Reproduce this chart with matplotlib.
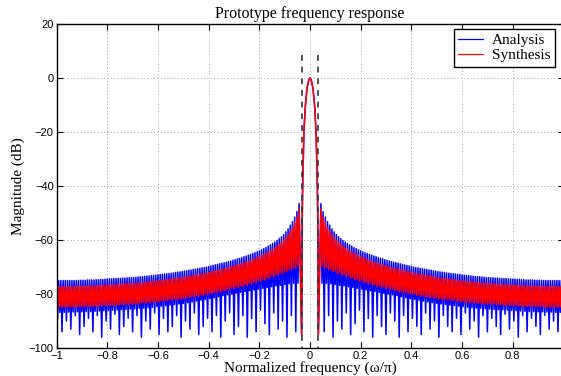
import numpy as np
import matplotlib
matplotlib.use("Agg")
import matplotlib.pyplot as plt

# main lobe (shared by both prototypes), positive half
main_f = [0.0, 0.005, 0.010, 0.013, 0.018, 0.024, 0.029, 0.031, 0.033]
main_db = [0.0, -0.8, -3.0, -5.0, -10.0, -20.0, -40.0, -55.0, -95.0]

# sidelobes on the positive half (mirrored for negative frequencies)
SIDELOBE_START = 0.043
SIDELOBE_STEP = 0.0087

analysis_peaks = [
    -46.5, -49.5, -51.5, -53.2, -54.5, -55.9, -57.0, -58.0, -58.8, -59.5,
    -60.2, -60.8, -61.3, -61.8, -62.3, -62.8, -63.2, -63.6, -64.0, -64.4,
    -64.7, -65.0, -65.3, -65.6, -65.9, -66.2, -66.5, -66.8, -67.0, -67.3,
    -67.5, -67.8, -68.0, -68.2, -68.4, -68.6, -68.8, -69.0, -69.2, -69.4,
    -69.6, -69.8, -70.0, -70.2, -70.3, -70.5, -70.6, -70.8, -70.9, -71.1,
    -71.2, -71.4, -71.5, -71.7, -71.8, -71.9, -72.0, -72.2, -72.3, -72.4,
    -72.5, -72.6, -72.7, -72.8, -72.9, -73.0, -73.1, -73.2, -73.3, -73.4,
    -73.5, -73.6, -73.6, -73.7, -73.8, -73.9, -73.9, -74.0, -74.0, -74.1,
    -74.1, -74.2, -74.2, -74.3, -74.3, -74.4, -74.4, -74.5, -74.5, -74.6,
    -74.6, -74.7, -74.7, -74.8, -74.8, -74.8, -74.8, -74.9, -74.9, -74.9,
    -74.9, -75.0, -75.0, -75.0, -75.0, -75.0, -75.0, -75.0, -75.0, -75.0]
# shallow and deep nulls alternate
analysis_dips = [
    -76.0, -94, -76.0, -88, -76.2, -96, -76.5, -90, -76.8, -93,
    -77.0, -87, -77.3, -95, -77.6, -91, -77.9, -86, -78.2, -94,
    -78.5, -89, -78.8, -96, -79.1, -88, -79.4, -92, -79.7, -95,
    -80.0, -87, -80.3, -90, -80.6, -96, -81.0, -88, -81.4, -94,
    -81.7, -89, -82.0, -92, -82.3, -95, -82.6, -87, -82.9, -93,
    -83.2, -90, -83.5, -96, -83.7, -88, -83.9, -92, -84.1, -94,
    -84.3, -89, -84.5, -95, -84.7, -87, -84.9, -93, -85.1, -90,
    -85.2, -96, -85.3, -88, -85.5, -94, -85.6, -89, -85.7, -92,
    -85.8, -95, -85.9, -87.5, -86.0, -93, -86.1, -90, -86.2, -96,
    -86.3, -88, -86.4, -94, -86.5, -89, -86.5, -92, -86.6, -95,
    -86.6, -88, -86.7, -93, -86.7, -90, -86.8, -94, -86.8, -89]

synthesis_peaks = [
    -48.5, -51.5, -53.5, -55.2, -56.6, -58.0, -59.1, -60.1, -60.9, -61.6,
    -62.3, -62.9, -63.4, -63.9, -64.4, -64.9, -65.3, -65.7, -66.1, -66.5,
    -66.9, -67.2, -67.5, -67.8, -68.1, -68.4, -68.7, -69.0, -69.2, -69.5,
    -69.7, -70.0, -70.2, -70.4, -70.6, -70.8, -71.0, -71.2, -71.4, -71.6,
    -71.8, -72.0, -72.2, -72.4, -72.5, -72.7, -72.8, -73.0, -73.1, -73.3,
    -73.4, -73.6, -73.7, -73.9, -74.0, -74.1, -74.2, -74.4, -74.5, -74.6,
    -74.7, -74.8, -74.9, -75.0, -75.1, -75.2, -75.3, -75.4, -75.5, -75.6,
    -75.7, -75.8, -75.8, -75.9, -76.0, -76.1, -76.1, -76.2, -76.2, -76.3,
    -76.3, -76.4, -76.4, -76.5, -76.5, -76.6, -76.6, -76.7, -76.7, -76.8,
    -76.8, -76.9, -76.9, -77.0, -77.0, -77.0, -77.0, -77.1, -77.1, -77.1,
    -77.1, -77.2, -77.2, -77.2, -77.2, -77.2, -77.3, -77.3, -77.3, -77.3]
synthesis_dips = [
    -69.5, -70.5, -70.2, -71.0, -70.8, -71.6, -71.4, -72.3, -72.1, -73.0,
    -72.7, -73.6, -73.3, -74.2, -73.9, -74.8, -74.5, -75.3, -75.0, -75.8,
    -75.5, -76.3, -76.0, -76.8, -76.4, -77.2, -76.9, -77.6, -77.3, -78.0,
    -77.7, -78.4, -78.1, -78.8, -78.5, -79.2, -78.9, -79.6, -79.3, -79.9,
    -79.6, -80.2, -79.9, -80.5, -80.2, -80.8, -80.5, -81.1, -80.8, -81.4,
    -81.1, -81.7, -81.4, -81.9, -81.6, -82.1, -81.8, -82.3, -82.0, -82.5,
    -82.2, -82.7, -82.4, -82.9, -82.6, -83.1, -82.8, -83.3, -83.0, -83.4,
    -83.1, -83.5, -83.2, -83.7, -83.4, -83.8, -83.5, -83.9, -83.6, -84.0,
    -83.7, -84.1, -83.8, -84.2, -83.9, -84.3, -84.0, -84.4, -84.1, -84.5,
    -84.2, -84.6, -84.3, -84.7, -84.4, -84.7, -84.4, -84.8, -84.5, -84.8,
    -84.5, -84.9, -84.6, -84.9, -84.6, -85.0, -84.7, -85.0, -84.7, -85.0]

cutoff = 1.0 / 32
xticks = [-1, -0.8, -0.6, -0.4, -0.2, 0, 0.2, 0.4, 0.6, 0.8, 1]
xticklabels = ["\u22121", "\u22120.8", "\u22120.6", "\u22120.4", "\u22120.2", "0",
               "0.2", "0.4", "0.6", "0.8", "1"]
yticks = [-100, -80, -60, -40, -20, 0, 20]
yticklabels = ["\u2212100", "\u221280", "\u221260", "\u221240", "\u221220", "0", "20"]


def build_response(peaks, dips):
    k = np.arange(len(peaks))
    f_peak = SIDELOBE_START + SIDELOBE_STEP * k
    f_dip = f_peak + SIDELOBE_STEP / 2
    fx = np.concatenate([main_f, np.column_stack([f_peak, f_dip]).ravel()])
    fy = np.concatenate([main_db, np.column_stack([peaks, dips]).ravel()])
    x = np.concatenate([-fx[:0:-1], fx])
    y = np.concatenate([fy[:0:-1], fy])
    return x, y


serif = ["Liberation Serif", "DejaVu Serif"]
sans = ["Liberation Sans", "DejaVu Sans"]

fig = plt.figure(figsize=(5.61, 3.76), dpi=100)
ax = fig.add_axes([56.5 / 561, 28 / 376, 507 / 561, 324 / 376])

xa, ya = build_response(analysis_peaks, analysis_dips)
xs, ys = build_response(synthesis_peaks, synthesis_dips)
ax.plot(xa, ya, color="#0000ff", lw=1.1, label="Analysis")
ax.plot(xs, ys, color="#ff0000", lw=1.1, label="Synthesis")

for c in (-cutoff, cutoff):
    ax.plot([c, c], [8.5, -100], color="#333333", lw=1.2, dashes=(3.5, 3.5))

ax.set_xlim(-1, 1)
ax.set_ylim(-100, 20)
ax.set_xticks(xticks)
ax.set_xticklabels(xticklabels, fontfamily=sans, fontsize=8)
ax.set_yticks(yticks)
ax.set_yticklabels(yticklabels, fontfamily=sans, fontsize=8)
ax.tick_params(direction="in", length=4, width=0.8, top=True, right=True, pad=2)
ax.grid(True, linestyle=(0, (1, 3)), color="#808080", lw=0.6)
for s in ax.spines.values():
    s.set_linewidth(1.0)

ax.set_title("Prototype frequency response", fontfamily=serif, fontsize=11.5, pad=4)
ax.set_xlabel("Normalized frequency (\u03c9/\u03c0)", fontfamily=serif, fontsize=11, labelpad=0)
ax.set_ylabel("Magnitude (dB)", fontfamily=serif, fontsize=11, labelpad=2.5)

leg = ax.legend(loc="upper right", bbox_to_anchor=(555 / 561, 1 - 29 / 376),
                bbox_transform=fig.transFigure, borderaxespad=0, fancybox=False,
                framealpha=1, edgecolor="black", handlelength=1.6, handletextpad=0.6,
                borderpad=0.3, labelspacing=0.1, prop={"family": serif, "size": 11})
leg.get_frame().set_linewidth(1.0)
for line in leg.get_lines():
    line.set_linewidth(0.9)

plt.savefig("out.png", dpi=100)
